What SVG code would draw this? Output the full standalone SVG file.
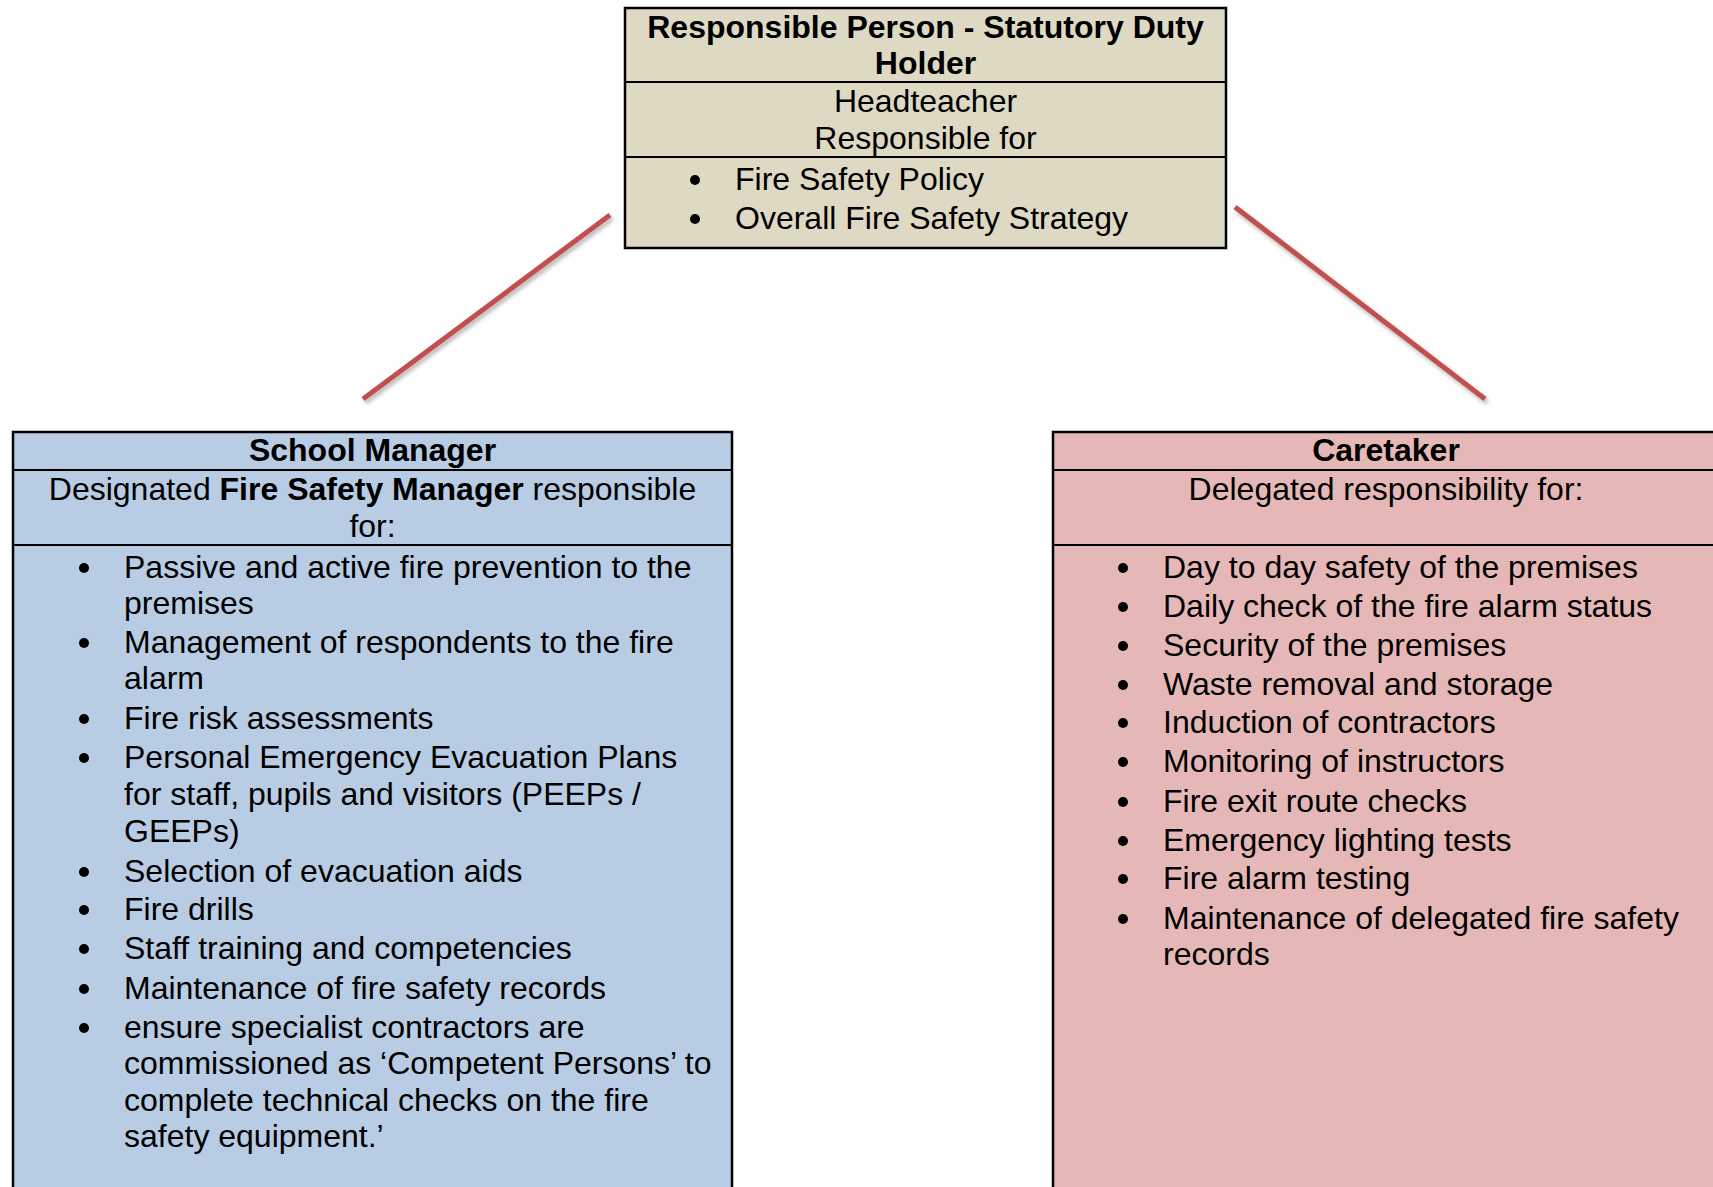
<svg xmlns="http://www.w3.org/2000/svg" width="1713" height="1187" viewBox="0 0 1713 1187">
<defs>
<style>
text{font-family:"Liberation Sans",Arial,sans-serif;font-size:32px;fill:#000}
.b{font-weight:bold}
.c{text-anchor:middle}
.box{stroke:#000;stroke-width:2.5}
.div{stroke:#000;stroke-width:2}
.dot{fill:#000}
.con{stroke:#C0504D;stroke-width:5;fill:none;filter:url(#sh)}
</style>
<filter id="sh" x="-20%" y="-20%" width="140%" height="160%">
<feDropShadow dx="2" dy="3" stdDeviation="2" flood-color="#000" flood-opacity="0.3"/>
</filter>
</defs>
<rect width="1713" height="1187" fill="#fff"/>
<g id="connectors">
<line class="con" x1="610" y1="215" x2="363" y2="399"/>
<line class="con" x1="1235" y1="207" x2="1485" y2="399"/>
<line class="con" x1="731" y1="704" x2="1047" y2="704"/>
</g>
<g id="responsible-person">
<rect class="box" x="625" y="8" width="601" height="240" fill="#DDD9C3"/>
<line class="div" x1="625" y1="82" x2="1226" y2="82"/>
<line class="div" x1="625" y1="157" x2="1226" y2="157"/>
<text class="b c" x="925.5" y="38">Responsible Person - Statutory Duty</text>
<text class="b c" x="925.5" y="74">Holder</text>
<text class="c" x="925.5" y="112">Headteacher</text>
<text class="c" x="925.5" y="149">Responsible for</text>
<circle class="dot" cx="695" cy="180" r="5"/><text x="735" y="190">Fire Safety Policy</text>
<circle class="dot" cx="695" cy="219" r="5"/><text x="735" y="229">Overall Fire Safety Strategy</text>
</g>
<g id="school-manager">
<rect class="box" x="13" y="432" width="719" height="770" fill="#B8CCE4"/>
<line class="div" x1="13" y1="470" x2="732" y2="470"/>
<line class="div" x1="13" y1="545" x2="732" y2="545"/>
<text class="b c" x="372.5" y="461">School Manager</text>
<text class="c" x="372.5" y="500">Designated <tspan class="b">Fire Safety Manager</tspan> responsible</text>
<text class="c" x="372.5" y="537">for:</text>
<circle class="dot" cx="84" cy="568" r="5"/><text x="124" y="578">Passive and active fire prevention to the</text>
<text x="124" y="614">premises</text>
<circle class="dot" cx="84" cy="643" r="5"/><text x="124" y="653">Management of respondents to the fire</text>
<text x="124" y="689">alarm</text>
<circle class="dot" cx="84" cy="719" r="5"/><text x="124" y="729">Fire risk assessments</text>
<circle class="dot" cx="84" cy="758" r="5"/><text x="124" y="768">Personal Emergency Evacuation Plans</text>
<text x="124" y="805">for staff, pupils and visitors (PEEPs /</text>
<text x="124" y="842">GEEPs)</text>
<circle class="dot" cx="84" cy="872" r="5"/><text x="124" y="882">Selection of evacuation aids</text>
<circle class="dot" cx="84" cy="910" r="5"/><text x="124" y="920">Fire drills</text>
<circle class="dot" cx="84" cy="949" r="5"/><text x="124" y="959">Staff training and competencies</text>
<circle class="dot" cx="84" cy="989" r="5"/><text x="124" y="999">Maintenance of fire safety records</text>
<circle class="dot" cx="84" cy="1028" r="5"/><text x="124" y="1038">ensure specialist contractors are</text>
<text x="124" y="1074">commissioned as ‘Competent Persons’ to</text>
<text x="124" y="1111">complete technical checks on the fire</text>
<text x="124" y="1147">safety equipment.’</text>
</g>
<g id="caretaker">
<rect class="box" x="1053" y="432" width="680" height="770" fill="#E5B8B7"/>
<line class="div" x1="1053" y1="470" x2="1713" y2="470"/>
<line class="div" x1="1053" y1="545" x2="1713" y2="545"/>
<text class="b c" x="1386" y="461">Caretaker</text>
<text class="c" x="1386" y="500">Delegated responsibility for:</text>
<circle class="dot" cx="1123" cy="568" r="5"/><text x="1163" y="578">Day to day safety of the premises</text>
<circle class="dot" cx="1123" cy="607" r="5"/><text x="1163" y="617">Daily check of the fire alarm status</text>
<circle class="dot" cx="1123" cy="646" r="5"/><text x="1163" y="656">Security of the premises</text>
<circle class="dot" cx="1123" cy="685" r="5"/><text x="1163" y="695">Waste removal and storage</text>
<circle class="dot" cx="1123" cy="723" r="5"/><text x="1163" y="733">Induction of contractors</text>
<circle class="dot" cx="1123" cy="762" r="5"/><text x="1163" y="772">Monitoring of instructors</text>
<circle class="dot" cx="1123" cy="802" r="5"/><text x="1163" y="812">Fire exit route checks</text>
<circle class="dot" cx="1123" cy="841" r="5"/><text x="1163" y="851">Emergency lighting tests</text>
<circle class="dot" cx="1123" cy="879" r="5"/><text x="1163" y="889">Fire alarm testing</text>
<circle class="dot" cx="1123" cy="919" r="5"/><text x="1163" y="929">Maintenance of delegated fire safety</text>
<text x="1163" y="965">records</text>
</g>
</svg>
